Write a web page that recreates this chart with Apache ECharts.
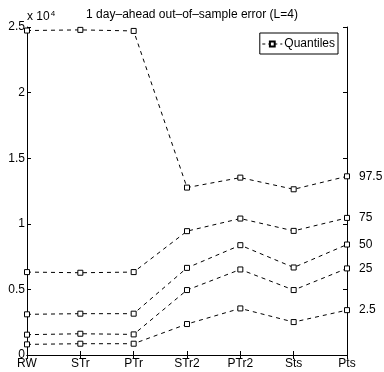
<!DOCTYPE html>
<html>
<head>
<meta charset="utf-8">
<script src="https://cdn.jsdelivr.net/npm/echarts@6/dist/echarts.min.js"></script>
<style>
  html, body { margin: 0; padding: 0; background: #fff; }
  #main { width: 384px; height: 372px; }
</style>
</head>
<body>
<div id="main"></div>
<script>
  // models on the x axis
  var categories = ['RW', 'STr', 'PTr', 'STr2', 'PTr2', 'Sts', 'Pts'];

  // error quantiles, units of 1e4
  var q975 = [2.473, 2.478, 2.470, 1.276, 1.352, 1.263, 1.362];
  var q75  = [0.632, 0.627, 0.632, 0.944, 1.040, 0.946, 1.045];
  var q50  = [0.310, 0.315, 0.315, 0.664, 0.837, 0.667, 0.842];
  var q25  = [0.155, 0.162, 0.157, 0.495, 0.652, 0.495, 0.660];
  var q025 = [0.081, 0.086, 0.086, 0.236, 0.355, 0.251, 0.342];

  var quantileLabels = ['97.5', '75', '50', '25', '2.5'];
  var yTicks = [0, 0.5, 1, 1.5, 2, 2.5];

  var allSeries = [q975, q75, q50, q25, q025];
  var font = "'Liberation Sans', Arial, sans-serif";

  var myChart = echarts.init(document.getElementById('main'));

  var series = allSeries.map(function (vals, i) {
    return {
      name: 'Quantiles',
      type: 'line',
      data: vals,
      symbol: 'rect',
      symbolSize: 5,
      itemStyle: { color: '#fff', borderColor: '#000', borderWidth: 1 },
      lineStyle: { color: '#000', width: 1, type: [4, 4] },
      xAxisIndex: 0,
      yAxisIndex: 0,
      animation: false,
      endLabel: {
        show: true,
        distance: 12,
        color: '#000',
        fontSize: 12,
        fontFamily: font,
        formatter: function () { return quantileLabels[i]; }
      }
    };
  });

  var option = {
    title: {
      text: '1 day\u2013ahead out\u2013of\u2013sample error (L=4)',
      left: 187,
      textAlign: 'center',
      top: 4,
      textStyle: { fontSize: 12, fontWeight: 'normal', color: '#000', fontFamily: font }
    },
    // the "x 10^4" multiplier above the y axis
    graphic: [{
      type: 'text',
      left: 27,
      top: 10,
      style: {
        text: 'x 10{sup|4}',
        fill: '#000',
        fontSize: 12,
        fontFamily: font,
        rich: { sup: { fontSize: 8, verticalAlign: 'top', padding: [0, 0, 6, 1], fill: '#000', fontFamily: font } }
      }
    }],
    legend: {
      data: ['Quantiles'],
      right: 46,
      top: 33,
      itemWidth: 20,
      itemHeight: 6,
      itemGap: 4,
      padding: [5, 3, 4, 2],
      borderColor: '#000',
      borderWidth: 1,
      borderRadius: 0,
      backgroundColor: '#fff',
      lineStyle: { type: [3, 3], width: 1, color: '#000' },
      textStyle: { fontSize: 12, color: '#000', fontFamily: font, padding: [0, 0, 0, -3] }
    },
    grid: { left: 27, right: 37, top: 27, bottom: 17, containLabel: false },
    xAxis: [{
      type: 'category',
      data: categories,
      boundaryGap: false,
      axisLine: { lineStyle: { color: '#000', width: 1 } },
      axisTick: { inside: true, length: 4, lineStyle: { color: '#000' } },
      axisLabel: { color: '#000', fontSize: 12, fontFamily: font, margin: 3 },
      splitLine: { show: false }
    }, {
      type: 'category',
      data: categories,
      boundaryGap: false,
      position: 'top',
      axisLine: { lineStyle: { color: '#000', width: 1 } },
      axisTick: { inside: true, length: 4, lineStyle: { color: '#000' } },
      axisLabel: { show: false }
    }],
    yAxis: [{
      type: 'value',
      min: yTicks[0],
      max: yTicks[yTicks.length - 1],
      interval: 0.5,
      axisLine: { show: true, lineStyle: { color: '#000', width: 1 } },
      axisTick: { show: true, inside: true, length: 4, lineStyle: { color: '#000' } },
      axisLabel: { color: '#000', fontSize: 12, fontFamily: font, margin: 2 },
      splitLine: { show: false }
    }, {
      type: 'value',
      min: yTicks[0],
      max: yTicks[yTicks.length - 1],
      interval: 0.5,
      position: 'right',
      axisLine: { show: true, lineStyle: { color: '#000', width: 1 } },
      axisTick: { show: true, inside: true, length: 4, lineStyle: { color: '#000' } },
      axisLabel: { show: false },
      splitLine: { show: false }
    }],
    series: series
  };

  myChart.setOption(option);
</script>
</body>
</html>
